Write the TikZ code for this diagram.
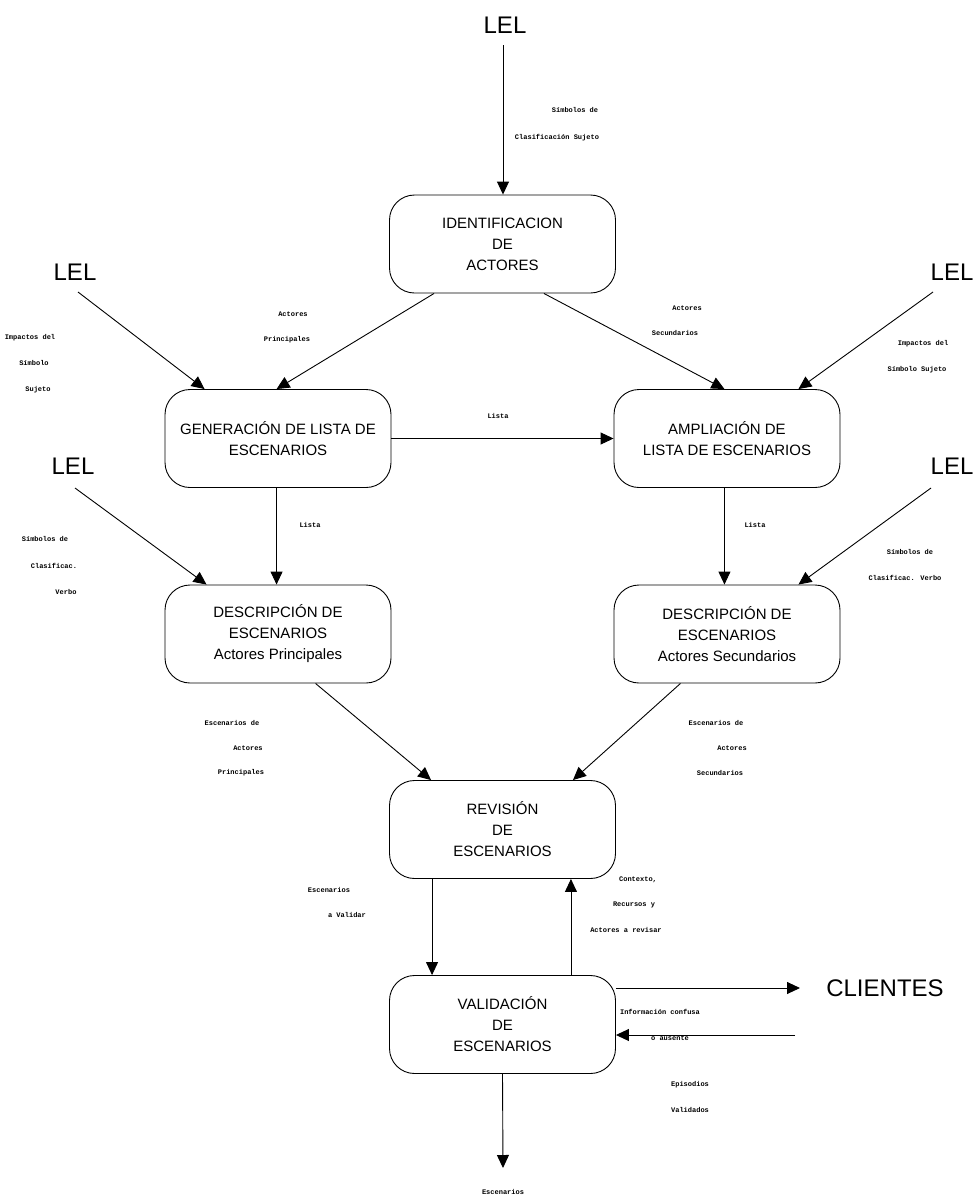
\documentclass[tikz,border=0pt]{standalone}
\usepackage{fontspec}
\setmainfont{Liberation Sans}
\newfontfamily\monof{Liberation Mono}
\usetikzlibrary{arrows.meta}
\begin{document}
\begin{tikzpicture}[x=1pt,y=-1pt,
  box/.style={draw, rounded corners=25pt, minimum width=226pt, minimum height=98pt, align=center, font=\fontsize{15}{21}\selectfont, line width=0.9pt, inner sep=0pt},
  big/.style={font=\fontsize{24}{28}\selectfont, inner sep=0pt},
  lab/.style={font=\monof\bfseries\fontsize{7}{8}\selectfont, inner sep=0pt},
  arr/.style={-{Triangle[length=13pt,width=12pt]}, line width=0.9pt}]
\useasboundingbox (0,0) rectangle (978,1203);

% boxes
\node[box] (ident) at (502.5,244) {IDENTIFICACION\\DE\\ACTORES};
\node[box] (gen) at (278,438.5) {GENERACIÓN DE LISTA DE\\ESCENARIOS};
\node[box] (ampl) at (727,438.5) {AMPLIACIÓN DE\\LISTA DE ESCENARIOS};
\node[box] (descL) at (278,634) {DESCRIPCIÓN DE\\ESCENARIOS\\Actores Principales};
\node[box] (descR) at (727,634) {DESCRIPCIÓN DE\\ESCENARIOS\\Actores Secundarios};
\node[box] (rev) at (502.5,829.5) {REVISIÓN\\DE\\ESCENARIOS};
\node[box] (val) at (502.5,1024.5) {VALIDACIÓN\\DE\\ESCENARIOS};

% big labels
\node[big] (lel0) at (505,25) {LEL};
\node[big] (lelL1) at (75,272) {LEL};
\node[big] (lelR1) at (952,272) {LEL};
\node[big] (lelL2) at (73,466) {LEL};
\node[big] (lelR2) at (952,466) {LEL};
\node[big] (cli) at (885,988) {CLIENTES};

\coordinate (s0) at (503,45);
\coordinate (sL1) at (78,292);
\coordinate (sR1) at (933,292);
\coordinate (sL2) at (75,488);
\coordinate (sR2) at (931,488);
\coordinate (cliend) at (800,988);
\coordinate (inR) at (795,1035);
\coordinate (outB) at (503,1168);

% connectors
\draw[arr] (s0) -- (ident.north -| s0);
\draw[arr] (sL1) -- ([xshift=40pt]gen.north west);
\draw[arr] ([xshift=45pt]ident.south west) -- ([xshift=112pt]gen.north west);
\draw[arr] ([xshift=-72pt]ident.south east) -- ([xshift=-116pt]ampl.north east);
\draw[arr] (sR1) -- ([xshift=-42pt]ampl.north east);
\draw[arr] (gen.east) -- (ampl.west);
\draw[arr] ([xshift=112pt]gen.south west) -- ([xshift=112pt]descL.north west);
\draw[arr] ([xshift=-116pt]ampl.south east) -- ([xshift=-116pt]descR.north east);
\draw[arr] (sL2) -- ([xshift=42pt]descL.north west);
\draw[arr] (sR2) -- ([xshift=-42pt]descR.north east);
\draw[arr] ([xshift=151pt]descL.south west) -- ([xshift=42pt]rev.north west);
\draw[arr] ([xshift=-160pt]descR.south east) -- ([xshift=-43pt]rev.north east);
\draw[arr] ([xshift=43pt]rev.south west) -- ([xshift=43pt]val.north west);
\draw[arr] ([xshift=-45pt]val.north east) -- ([xshift=-45pt]rev.south east);
\draw[arr] (val.east |- cliend) -- (cliend);
\draw[arr] (inR) -- (val.east |- inR);
\draw[arr] (val.south) -- (outB);

% small labels
\node[lab] (t1a) at (575,110) {Símbolos de};
\node[lab] (t1b) at (557,138) {Clasificación Sujeto};
\node[lab] (t2a) at (30,338) {Impactos del};
\node[lab] (t2b) at (34,363) {Símbolo};
\node[lab] (t2c) at (38,390) {Sujeto};
\node[lab] (t3a) at (293,314) {Actores};
\node[lab] (t3b) at (287,340) {Principales};
\node[lab] (t4a) at (687,308) {Actores};
\node[lab] (t4b) at (675,333) {Secundarios};
\node[lab] (t5a) at (923,344) {Impactos del};
\node[lab] (t5b) at (917,370) {Símbolo Sujeto};
\node[lab] (t6) at (498,416) {Lista};
\node[lab] (t7) at (310,525) {Lista};
\node[lab] (t8) at (755,525) {Lista};
\node[lab] (t9a) at (45,539) {Símbolos de};
\node[lab] (t9b) at (54,566) {Clasificac.};
\node[lab] (t9c) at (66,592) {Verbo};
\node[lab] (t10a) at (910,552) {Símbolos de};
\node[lab] (t10b) at (905,578) {Clasificac. Verbo};
\node[lab] (t11a) at (232,723) {Escenarios de};
\node[lab] (t11b) at (248,748) {Actores};
\node[lab] (t11c) at (241,773) {Principales};
\node[lab] (t12a) at (716,723) {Escenarios de};
\node[lab] (t12b) at (732,748) {Actores};
\node[lab] (t12c) at (720,773) {Secundarios};
\node[lab] (t13a) at (329,890) {Escenarios};
\node[lab] (t13b) at (347,915) {a Validar};
\node[lab] (t14a) at (638,880) {Contexto,};
\node[lab] (t14b) at (634,905) {Recursos y};
\node[lab] (t14c) at (626,930) {Actores a revisar};
\node[lab] (t15a) at (660,1012) {Información confusa};
\node[lab] (t15b) at (670,1038) {o ausente};
\node[lab] (t16a) at (690,1085) {Episodios};
\node[lab] (t16b) at (690,1110) {Validados};
\node[lab] (t17) at (503,1192) {Escenarios};
\end{tikzpicture}
\end{document}
